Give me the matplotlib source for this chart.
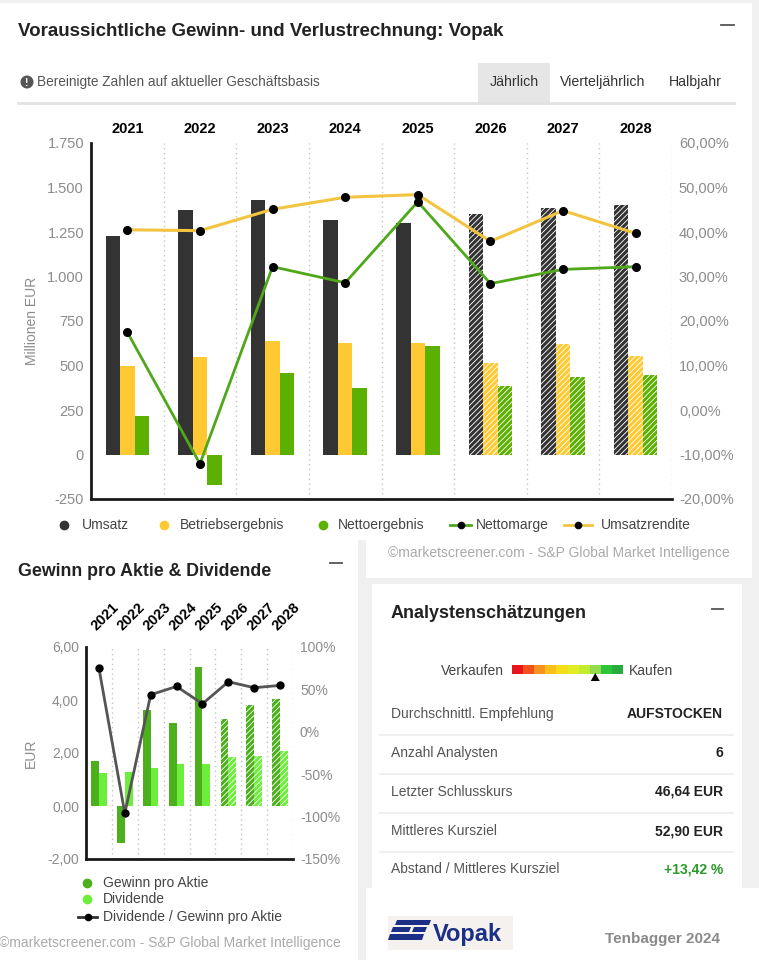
import matplotlib
matplotlib.use('Agg')
import matplotlib.pyplot as plt
from matplotlib.patches import Rectangle, Polygon, Circle

plt.rcParams['font.family'] = ['Liberation Sans', 'DejaVu Sans']
plt.rcParams['hatch.linewidth'] = 2.2

W, H = 759, 960

# ---- data: Gewinn- und Verlustrechnung (Mio. EUR, %)
years = ['2021', '2022', '2023', '2024', '2025', '2026', '2027', '2028']
n_ist = 5  # ab 2026 Schaetzungen (schraffiert)
umsatz = [1228, 1371, 1431, 1316, 1303, 1350, 1384, 1399]
betriebsergebnis = [500, 545, 640, 625, 627, 513, 622, 552]
nettoergebnis = [215, -169, 457, 376, 607, 386, 433, 448]
nettomarge = [17.5, -12.1, 32.2, 28.6, 46.8, 28.4, 31.6, 32.2]
umsatzrendite = [40.5, 40.3, 45.1, 47.8, 48.4, 37.9, 44.8, 39.7]

mio_ticks = [-250, 0, 250, 500, 750, 1000, 1250, 1500, 1750]
mio_labels = ['-250', '0', '250', '500', '750', '1.000', '1.250', '1.500', '1.750']
pct_ticks = [-20, -10, 0, 10, 20, 30, 40, 50, 60]
pct_labels = ['-20,00%', '-10,00%', '0,00%', '10,00%', '20,00%', '30,00%', '40,00%', '50,00%', '60,00%']

# ---- data: Gewinn pro Aktie & Dividende
gewinn_pro_aktie = [1.68, -1.41, 3.61, 3.15, 5.24, 3.30, 3.80, 4.03]
dividende = [1.23, 1.28, 1.45, 1.59, 1.57, 1.86, 1.90, 2.08]
ausschuettung = [75, -96, 43.7, 53.5, 33, 59, 52, 54.7]
eur_ticks = [-2, 0, 2, 4, 6]
eur_labels = ['-2,00', '0,00', '2,00', '4,00', '6,00']
quote_ticks = [-150, -100, -50, 0, 50, 100]
quote_labels = ['-150%', '-100%', '-50%', '0%', '50%', '100%']

# ---- data: Analystenschaetzungen
skala_farben = ['#e8141c', '#f2501c', '#f8931e', '#fbbf1a', '#f5dd1a',
                '#e2ee25', '#c3ec2e', '#92dc50', '#2ec43a', '#28ad3c']
skala_pos = 7
zeilen = ['Durchschnittl. Empfehlung', 'Anzahl Analysten', 'Letzter Schlusskurs',
          'Mittleres Kursziel', 'Abstand / Mittleres Kursziel']
werte = ['AUFSTOCKEN', '6', '46,64 EUR', '52,90 EUR', '+13,42 %']

c_ums = '#333333'
c_betr = '#ffc933'
c_netto = '#5bb000'
c_marge = '#4fa81a'
c_rendite = '#f2c440'
c_eps = '#4cb01c'
c_div = '#6cee3a'
grey_txt = '#8c8c8c'


def rect(x0, y0, x1, y1):
    return [x0 / W, 1 - y1 / H, (x1 - x0) / W, (y1 - y0) / H]


def bars(ax, xs, vals, color, width):
    for i in range(len(vals)):
        if i < n_ist:
            ax.bar(xs[i], vals[i], width, color=color, lw=0, zorder=2)
        else:
            ax.bar(xs[i], vals[i], width, facecolor='white', edgecolor=color,
                   hatch='//////', lw=0, zorder=2)


fig = plt.figure(figsize=(W / 100, H / 100), dpi=100)
fig.patch.set_facecolor('white')

# background / cards in pixel coordinates
bg = fig.add_axes([0, 0, 1, 1])
bg.set_xlim(0, W)
bg.set_ylim(H, 0)
bg.axis('off')
bg.add_patch(Rectangle((0, 0), W, 3, color='#f0f0f0', lw=0))
bg.add_patch(Rectangle((752, 0), 7, 578, color='#f0f0f0', lw=0))
bg.add_patch(Rectangle((358, 540), 8, 420, color='#f0f0f0', lw=0))
bg.add_patch(Rectangle((366, 578), 393, 310, color='#f0f0f0', lw=0))
bg.add_patch(Rectangle((372, 584), 370, 304, color='white', lw=0))

# ---- top header
bg.text(18, 31, 'Voraussichtliche Gewinn- und Verlustrechnung: Vopak', fontsize=13.5,
        fontweight='bold', color='#222222', va='center')
bg.plot([721, 734], [25, 25], color='#555555', lw=1.3)
bg.add_patch(Circle((27, 82), 6.5, color='#555555', lw=0))
bg.text(27, 82.5, '!', color='white', fontsize=7.5, fontweight='bold', ha='center', va='center')
bg.text(37, 82, 'Bereinigte Zahlen auf aktueller Geschäftsbasis', fontsize=9.8,
        color='#555555', va='center')
bg.add_patch(Rectangle((478, 63), 72, 40, color='#e6e6e6', lw=0))
bg.plot([18, 734], [103, 103], color='#e2e2e2', lw=2)
bg.text(514, 82, 'Jährlich', fontsize=10.2, color='#333333', ha='center', va='center')
bg.text(560, 82, 'Vierteljährlich', fontsize=10.2, color='#333333', va='center')
bg.text(669, 82, 'Halbjahr', fontsize=10.2, color='#333333', va='center')

# ---- main chart
x = list(range(len(years)))
ax1 = fig.add_axes(rect(91, 143, 672, 499))
ax1.set_facecolor('none')
bars(ax1, [i - 0.2 for i in x], umsatz, c_ums, 0.2)
bars(ax1, x, betriebsergebnis, c_betr, 0.2)
bars(ax1, [i + 0.2 for i in x], nettoergebnis, c_netto, 0.2)
for i in x:
    ax1.axvline(i + 0.5, color='#c4c4c4', ls=(0, (1, 2.5)), lw=1, zorder=1)
ax1.set_xlim(-0.5, 7.5)
ax1.set_ylim(-250, 1750)
ax1.set_yticks(mio_ticks)
ax1.set_yticklabels(mio_labels)
ax1.set_xticks(x)
ax1.set_xticklabels(years, fontweight='bold', fontsize=10.5, color='black')
ax1.tick_params(axis='x', top=True, labeltop=True, bottom=False, labelbottom=False, length=0, pad=5)
ax1.tick_params(axis='y', length=0, labelsize=10.5, labelcolor=grey_txt, pad=5)
ax1.set_ylabel('Millionen EUR', fontsize=10, color=grey_txt)
ax1.yaxis.set_label_coords((39 - 91) / 581, 0.5)
for s in ['top', 'right']:
    ax1.spines[s].set_visible(False)
for s in ['left', 'bottom']:
    ax1.spines[s].set_linewidth(2)
    ax1.spines[s].set_color('#1a1a1a')

ax2 = ax1.twinx()
ax2.plot(x, umsatzrendite, color=c_rendite, lw=2.2, marker='o', ms=5.5, mfc='black', mec='black')
ax2.plot(x, nettomarge, color=c_marge, lw=2, marker='o', ms=5.5, mfc='black', mec='black')
ax2.set_ylim(-20, 60)
ax2.set_yticks(pct_ticks)
ax2.set_yticklabels(pct_labels)
ax2.tick_params(axis='y', length=0, labelsize=10.5, labelcolor=grey_txt, pad=5)
for s in ax2.spines.values():
    s.set_visible(False)

# legend row
for label, col, dx, tx in [('Umsatz', c_ums, 64, 82), ('Betriebsergebnis', c_betr, 164, 180),
                           ('Nettoergebnis', c_netto, 323, 338)]:
    bg.plot(dx, 525, 'o', color=col, ms=6)
    bg.text(tx, 525, label, fontsize=10, color='#444444', va='center')
for label, col, x0, x1, tx in [('Nettomarge', c_marge, 450, 471, 476),
                               ('Umsatzrendite', c_rendite, 564, 592, 601)]:
    bg.plot([x0, x1], [525, 525], color=col, lw=2)
    bg.plot((x0 + x1) / 2, 525, 'o', color='black', ms=4.5)
    bg.text(tx, 525, label, fontsize=10, color='#444444', va='center')
bg.text(730, 553, '©marketscreener.com - S&P Global Market Intelligence', fontsize=10,
        color='#aaaaaa', ha='right', va='center')

# ---- lower left: Gewinn pro Aktie & Dividende
bg.add_patch(Rectangle((0, 540), 358, 420, color='white', lw=0))
bg.text(18, 571, 'Gewinn pro Aktie & Dividende', fontsize=12.8, fontweight='bold',
        color='#222222', va='center')
bg.plot([330, 342], [563, 563], color='#555555', lw=1.3)

ax3 = fig.add_axes(rect(86, 647, 293, 859))
ax3.set_facecolor('none')
bars(ax3, [i - 0.15 for i in x], gewinn_pro_aktie, c_eps, 0.3)
bars(ax3, [i + 0.15 for i in x], dividende, c_div, 0.3)
for i in x:
    ax3.axvline(i + 0.5, color='#c4c4c4', ls=(0, (1, 2.5)), lw=1, zorder=1)
ax3.set_xlim(-0.5, 7.5)
ax3.set_ylim(-2, 6)
ax3.set_yticks(eur_ticks)
ax3.set_yticklabels(eur_labels)
ax3.set_xticks(x)
ax3.set_xticklabels(years, fontweight='bold', fontsize=10.5, color='black', rotation=45,
                    ha='left', va='bottom', rotation_mode='anchor')
ax3.tick_params(axis='x', top=True, labeltop=True, bottom=False, labelbottom=False, length=0, pad=10)
ax3.tick_params(axis='y', length=0, labelsize=10, labelcolor=grey_txt, pad=5)
ax3.set_ylabel('EUR', fontsize=10, color=grey_txt)
ax3.yaxis.set_label_coords((38 - 86) / 207, 0.5)
for s in ['top', 'right']:
    ax3.spines[s].set_visible(False)
for s in ['left', 'bottom']:
    ax3.spines[s].set_linewidth(2)
    ax3.spines[s].set_color('#1a1a1a')

ax4 = ax3.twinx()
ax4.plot(x, ausschuettung, color='#555555', lw=2, marker='o', ms=5, mfc='black', mec='black')
ax4.set_ylim(-150, 100)
ax4.set_yticks(quote_ticks)
ax4.set_yticklabels(quote_labels)
ax4.tick_params(axis='y', length=0, labelsize=10, labelcolor=grey_txt, pad=5)
for s in ax4.spines.values():
    s.set_visible(False)

bg.plot(87, 883, 'o', color=c_eps, ms=6)
bg.text(103, 883, 'Gewinn pro Aktie', fontsize=10, color='#444444', va='center')
bg.plot(87, 899, 'o', color=c_div, ms=6)
bg.text(103, 899, 'Dividende', fontsize=10, color='#444444', va='center')
bg.plot([78, 97], [917, 917], color='#333333', lw=2)
bg.plot(88, 917, 'o', color='black', ms=4.5)
bg.text(103, 917, 'Dividende / Gewinn pro Aktie', fontsize=10, color='#444444', va='center')
bg.text(341, 943, '©marketscreener.com - S&P Global Market Intelligence', fontsize=10,
        color='#aaaaaa', ha='right', va='center')

# ---- lower right: Analystenschaetzungen
bg.text(391, 614, 'Analystenschätzungen', fontsize=13, fontweight='bold', color='#222222', va='center')
bg.plot([712, 723], [609, 609], color='#555555', lw=1.3)
bg.text(504, 671, 'Verkaufen', fontsize=10, color='#444444', ha='right', va='center')
seg_w = (623 - 512) / len(skala_farben)
for k, c in enumerate(skala_farben):
    bg.add_patch(Rectangle((512 + k * seg_w, 665), seg_w, 9, color=c, lw=0))
tx = 512 + (skala_pos + 0.5) * seg_w
bg.add_patch(Polygon([[tx - 4.5, 681], [tx + 4.5, 681], [tx, 673]], color='black', lw=0))
bg.text(629, 671, 'Kaufen', fontsize=10, color='#444444', va='center')
row_y = [714, 753, 792, 831, 869]
for k, (lab, val) in enumerate(zip(zeilen, werte)):
    bg.text(391, row_y[k], lab, fontsize=10, color='#555555', va='center')
    col = '#2a9a2a' if val.startswith('+') else '#222222'
    bg.text(723, row_y[k], val, fontsize=10, fontweight='bold', color=col, ha='right', va='center')
    if k < len(zeilen) - 1:
        bg.plot([380, 733], [row_y[k] + 21, row_y[k] + 21], color='#ececec', lw=1.2)

# logo + caption
bg.add_patch(Rectangle((388, 916), 125, 34, color='#f4f1ee', lw=0))
blue = '#1c2f86'
bg.add_patch(Polygon([[397, 920], [431, 920], [429, 925], [395, 925]], color=blue, lw=0))
bg.add_patch(Polygon([[393, 927], [411, 927], [409, 932], [391, 932]], color=blue, lw=0))
bg.add_patch(Polygon([[414, 927], [427, 927], [425, 932], [412, 932]], color=blue, lw=0))
bg.add_patch(Polygon([[390, 934], [424, 934], [422, 940], [388, 940]], color=blue, lw=0))
bg.text(433, 934, 'Vopak', fontsize=17, fontweight='bold', color=blue, va='center')
bg.text(605, 939, 'Tenbagger 2024', fontsize=11, fontweight='bold', color='#8a8a8a', va='center')

fig.savefig('out.png', dpi=100)
